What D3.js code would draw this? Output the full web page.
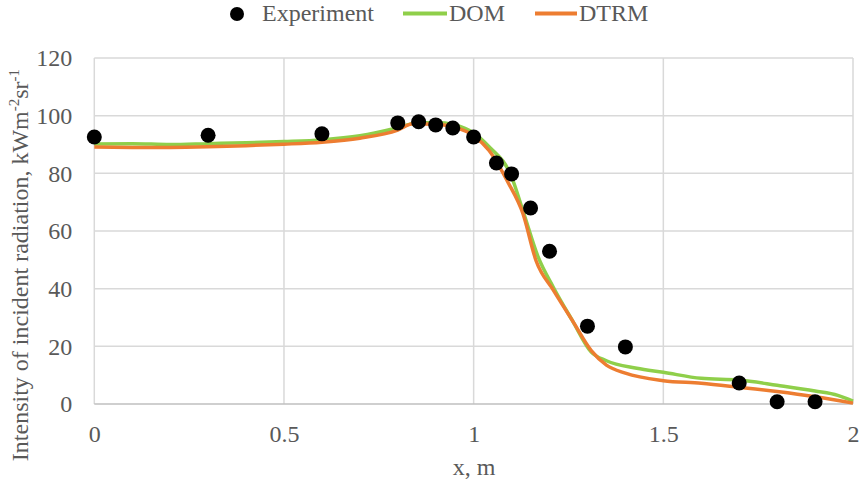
<!DOCTYPE html>
<html><head><meta charset="utf-8">
<script src="https://cdn.jsdelivr.net/npm/d3@7"></script>
<style>body{margin:0;background:#fff}svg{display:block}text{font-family:"Liberation Serif","Times New Roman",serif}</style>
</head><body><svg id="c" width="859" height="484"></svg>
<script>
const expX = [0,0.3,0.6,0.8,0.855,0.9,0.945,1.0,1.06,1.1,1.15,1.2,1.3,1.4,1.7,1.8,1.9];
const expY = [92.6,93.2,93.7,97.5,97.9,96.8,95.7,92.6,83.6,79.8,68,53,27,19.8,7.3,0.8,0.8];
const domX = [0,0.1,0.2,0.3,0.4,0.5,0.6,0.7,0.8,0.85,0.9,0.95,1.0,1.04,1.1,1.13,1.17,1.21,1.26,1.31,1.35,1.43,1.5,1.6,1.7,1.8,1.9,1.96,2.0];
const domY = [90.2,90.3,90,90.3,90.6,91,91.6,93,95.8,97.5,97.6,96.8,94,89.3,78.8,67,51,40.5,29,18,15,12.4,11,8.9,8.3,6.5,4.5,3,1];
const dtrmX = [0,0.1,0.2,0.3,0.4,0.5,0.6,0.7,0.8,0.84,0.9,0.95,1.0,1.04,1.09,1.13,1.165,1.21,1.26,1.31,1.35,1.4,1.5,1.6,1.7,1.8,1.9,2.0];
const dtrmY = [89.1,89,89,89.2,89.6,90.1,90.8,92.2,95,97.2,97,96,93,88,77,66,49.5,39.5,29,18.5,13.5,10.7,8.1,7.2,5.8,4.3,2.5,0.3];
const xTicks = [0,0.5,1,1.5,2];
const xTickLabels = ["0","0.5","1","1.5","2"];
const yTicks = [0,20,40,60,80,100,120];

const FS = 24;
const svg = d3.select("#c");
const x = d3.scaleLinear().domain([0,2]).range([94.3,853]);
const y = d3.scaleLinear().domain([0,120]).range([404,58]);

// gridlines
svg.append("g").selectAll("line").data(yTicks.filter(d=>d>0)).join("line")
  .attr("x1",x(0)).attr("x2",x(2)).attr("y1",d=>y(d)).attr("y2",d=>y(d))
  .attr("stroke","#d9d9d9").attr("stroke-width",1.5);
svg.append("g").selectAll("line").data(xTicks).join("line")
  .attr("x1",d=>x(d)).attr("x2",d=>x(d)).attr("y1",y(0)).attr("y2",y(120))
  .attr("stroke","#d9d9d9").attr("stroke-width",1.5);
svg.append("line").attr("x1",x(0)).attr("x2",x(2)).attr("y1",y(0)).attr("y2",y(0))
  .attr("stroke","#bfbfbf").attr("stroke-width",1.5);

// axes labels
const yAxis = d3.axisLeft(y).tickValues(yTicks).tickSize(0).tickPadding(22);
const gy = svg.append("g").attr("transform",`translate(${x(0)},0)`).call(yAxis);
gy.attr("font-family",null).attr("font-size",null);
gy.select(".domain").remove();
gy.selectAll("text").attr("font-size",FS).attr("fill","#595959");
const xAxis = d3.axisBottom(x).tickValues(xTicks).tickFormat((d,i)=>xTickLabels[i]).tickSize(0).tickPadding(21);
const gx = svg.append("g").attr("transform",`translate(0,${y(0)})`).call(xAxis);
gx.attr("font-family",null).attr("font-size",null);
gx.select(".domain").remove();
gx.selectAll("text").attr("font-size",FS).attr("fill","#595959");

// lines
const line = d3.line().x(d=>x(d[0])).y(d=>y(d[1])).curve(d3.curveMonotoneX);
svg.append("path").datum(domX.map((v,i)=>[v,domY[i]])).attr("d",line)
  .attr("fill","none").attr("stroke","#8fcf4a").attr("stroke-width",3.5).attr("stroke-linejoin","round");
svg.append("path").datum(dtrmX.map((v,i)=>[v,dtrmY[i]])).attr("d",line)
  .attr("fill","none").attr("stroke","#ed7d31").attr("stroke-width",3.5).attr("stroke-linejoin","round");

// experiment points
svg.append("g").selectAll("circle").data(expX.map((v,i)=>[v,expY[i]])).join("circle")
  .attr("cx",d=>x(d[0])).attr("cy",d=>y(d[1])).attr("r",7.5).attr("fill","#000");

// axis titles
svg.append("text").attr("x",474).attr("y",475).attr("text-anchor","middle")
  .attr("font-size",FS).attr("fill","#595959").text("x, m");
const yt = svg.append("text").attr("transform","translate(28,265) rotate(-90)").attr("text-anchor","middle")
  .attr("font-size",FS).attr("fill","#595959");
yt.append("tspan").text("Intensity of incident radiation, kWm");
yt.append("tspan").attr("font-size",15).attr("dy",-9).text("-2");
yt.append("tspan").attr("dy",9).text("sr");
yt.append("tspan").attr("font-size",15).attr("dy",-9).text("-1");

// legend
const lg = svg.append("g");
lg.append("circle").attr("cx",237).attr("cy",14).attr("r",7).attr("fill","#000");
lg.append("text").attr("x",262).attr("y",21).attr("font-size",FS).attr("fill","#595959").text("Experiment");
lg.append("line").attr("x1",403).attr("x2",447).attr("y1",13.5).attr("y2",13.5).attr("stroke","#8fcf4a").attr("stroke-width",4);
lg.append("text").attr("x",449).attr("y",21).attr("font-size",FS).attr("fill","#595959").text("DOM");
lg.append("line").attr("x1",535).attr("x2",577).attr("y1",13.5).attr("y2",13.5).attr("stroke","#ed7d31").attr("stroke-width",4);
lg.append("text").attr("x",579).attr("y",21).attr("font-size",FS).attr("fill","#595959").text("DTRM");
</script></body></html>
